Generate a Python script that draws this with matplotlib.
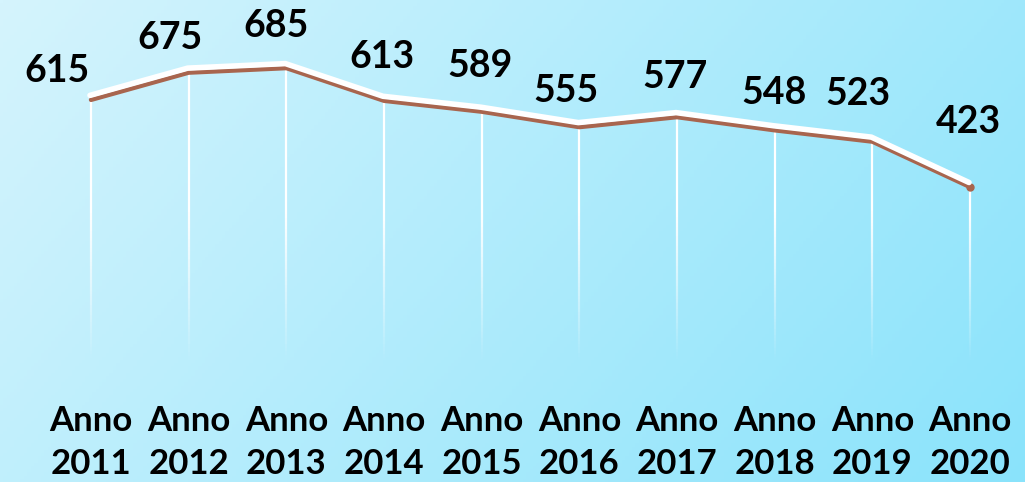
import numpy as np
import matplotlib
matplotlib.use("Agg")
from matplotlib import pyplot as plt
from matplotlib import transforms
from matplotlib.collections import LineCollection

years = ["2011", "2012", "2013", "2014", "2015", "2016", "2017", "2018", "2019", "2020"]
values = [615, 675, 685, 613, 589, 555, 577, 548, 523, 423]
tick_labels = ["Anno\n" + y for y in years]

# label offsets in pixels (hand placed, like the original)
lab_dx = [-34, -19, -10, -2, -2, -13, -2, -1, -14, -2]
lab_dy = [31, 37, 44, 46, 48, 38, 42, 39, 50, 67]

plt.rcParams['font.family'] = ['Lato', 'DejaVu Sans']

fig = plt.figure(figsize=(10.25, 4.82), dpi=100)

# gradient background
bg = fig.add_axes([0, 0, 1, 1])
gx, gy = np.meshgrid(np.linspace(0, 1, 300), np.linspace(0, 1, 150))
t = np.clip(0.72 * gx + 0.28 * gy, 0, 1)
c0 = np.array([213, 244, 253]) / 255
c1 = np.array([138, 227, 251]) / 255
img = c0[None, None, :] * (1 - t[..., None]) + c1[None, None, :] * t[..., None]
bg.imshow(img, aspect='auto', extent=[0, 1, 0, 1], origin='upper')
bg.set_axis_off()

ax = fig.add_axes([0, 1 - 379 / 482, 1, 379 / 482])
ax.patch.set_alpha(0)
x = np.arange(len(values))
ax.set_xlim(-91 / 97.67, (1025 - 91) / 97.67)
ax.set_ylim(0, 835)

# fading drop lines
segs, cols = [], []
for xi, v in zip(x, values):
    ys = np.linspace(v, 0, 80)
    for a, b in zip(ys[:-1], ys[1:]):
        segs.append([(xi, a), (xi, b)])
        al = np.clip((0.5 * (a + b) - 40) / 330, 0, 1)
        cols.append((1, 1, 1, al))
ax.add_collection(LineCollection(segs, colors=cols, linewidths=1.6))

# brown line and white highlight above it
ax.plot(x, values, color='#A8654E', lw=3.2, solid_capstyle='round', zorder=3)
ax.plot(x[-1], values[-1], 'o', color='#A8654E', ms=5, zorder=3)
hl = transforms.offset_copy(ax.transData, fig=fig, x=-1, y=4.5, units='dots')
ax.plot(x, values, color='white', lw=4, solid_capstyle='round', transform=hl, zorder=4)

for xi, v, dx, dy in zip(x, values, lab_dx, lab_dy):
    ax.annotate(str(v), (xi, v), xytext=(dx, dy - 2), textcoords='offset pixels',
                ha='center', va='center', fontsize=27, fontweight='bold', color='black')

ax.set_xticks(x)
ax.set_xticklabels(tick_labels, fontsize=25, fontweight='bold', linespacing=1.4)
ax.tick_params(axis='x', length=0, pad=19)
ax.set_yticks([])
for s in ax.spines.values():
    s.set_visible(False)

fig.savefig("out.png", dpi=100)
